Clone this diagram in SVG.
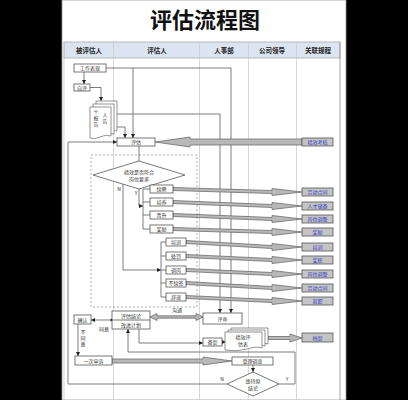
<svg xmlns="http://www.w3.org/2000/svg" width="408" height="400" viewBox="0 0 408 400">
<style>
.bx{fill:#fff;stroke:#555;stroke-width:0.8}
.rb{fill:#c4c4c4;stroke:#555;stroke-width:0.8}
.rt{fill:#3535c8;font-size:5px;text-anchor:middle;font-family:"Noto Sans CJK SC",sans-serif}
.bt{fill:#333;font-size:5px;text-anchor:middle;font-family:"Noto Sans CJK SC",sans-serif}
.ht{fill:#222;font-size:6.5px;text-anchor:middle;font-weight:bold;font-family:"Noto Sans CJK SC",sans-serif}
.ln{fill:none;stroke:#6e6e6e;stroke-width:0.9}
.ba{fill:#b8b8b8;stroke:#5e5e5e;stroke-width:0.7}
.col{stroke:#ccc;stroke-width:0.8}
.doc{fill:#fff;stroke:#666;stroke-width:0.7}
</style>
<defs>
<marker id="ah" markerWidth="4" markerHeight="4" refX="4" refY="2" orient="auto" markerUnits="userSpaceOnUse"><path d="M0,0 L4,2 L0,4 Z" fill="#222"/></marker>
</defs>
<rect x="0" y="0" width="408" height="400" fill="#000"/>
<rect x="62" y="0" width="284" height="400" fill="#fff" stroke="#999" stroke-width="0.8"/>
<text x="205" y="28" text-anchor="middle" font-size="22" font-weight="bold" font-family="Noto Sans CJK SC, sans-serif" fill="#111">评估流程图</text>
<g id="table">
<rect x="64" y="42" width="276" height="16" fill="#dbe5f1" stroke="#aaa" stroke-width="0.8"/>
<line class="col" x1="64" y1="42" x2="64" y2="400"/>
<line x1="340" y1="42" x2="340" y2="400" stroke="#999" stroke-width="0.9"/>
<line class="col" x1="113.5" y1="42" x2="113.5" y2="400"/>
<line class="col" x1="199.5" y1="42" x2="199.5" y2="400"/>
<line class="col" x1="248.5" y1="42" x2="248.5" y2="400"/>
<line class="col" x1="296.5" y1="42" x2="296.5" y2="400"/>
<text class="ht" x="89" y="52.5">被评估人</text>
<text class="ht" x="157" y="52.5">评估人</text>
<text class="ht" x="224" y="52.5">人事部</text>
<text class="ht" x="272" y="52.5">公司领导</text>
<text class="ht" x="318" y="52.5">关联规程</text>
</g>
<rect x="91" y="155" width="106" height="152" fill="none" stroke="#999" stroke-width="0.8" stroke-dasharray="2,2"/>
<g id="connectors">
<path class="ln" d="M106,68 H231 V313" marker-end="url(#ah)"/>
<path class="ln" d="M133,68 V138" marker-end="url(#ah)"/>
<path class="ln" d="M84,72 V84" marker-end="url(#ah)"/>
<path class="ln" d="M90,87.5 H101 V101" marker-end="url(#ah)"/>
<path class="ln" d="M115,114 H220 V313" marker-end="url(#ah)"/>
<path class="ln" d="M115,127 H125 V138" marker-end="url(#ah)"/>
<path class="ln" d="M139,146 V161"/>
<path class="ln" d="M68,384 V142 H117" marker-end="url(#ah)"/>
<path class="ln" d="M139,189 V206 H143" marker-end="url(#ah)"/>
<path class="ln" d="M143,189 V229 M143,189 H150 M143,202 H150 M143,215 H150 M143,229 H150"/>
<path class="ln" d="M123,184 V270 H161" marker-end="url(#ah)"/>
<path class="ln" d="M161,242 V297 M161,242 H166 M161,256 H166 M161,270 H166 M161,283 H166 M161,297 H166"/>
<polygon class="ba" points="302,139 190,139 190,137 155,142 190,147 190,145 302,145"/>
<polygon class="ba" points="173,187.5 272,190.5 272,188.5 302,192 272,195.5 272,193.5 173,190.5"/>
<polygon class="ba" points="173,200.5 272,204.5 272,202.5 302,206 272,209.5 272,207.5 173,203.5"/>
<polygon class="ba" points="173,213.5 272,217.5 272,215.5 302,219 272,222.5 272,220.5 173,216.5"/>
<polygon class="ba" points="173,227.5 272,230.5 272,228.5 302,232 272,235.5 272,233.5 173,230.5"/>
<polygon class="ba" points="186,240.5 272,245.5 272,243.5 302,247 272,250.5 272,248.5 186,243.5"/>
<polygon class="ba" points="186,254.5 272,258.5 272,256.5 302,260 272,263.5 272,261.5 186,257.5"/>
<polygon class="ba" points="186,268.5 272,272.5 272,270.5 302,274 272,277.5 272,275.5 186,271.5"/>
<polygon class="ba" points="186,281.5 272,286.5 272,284.5 302,288 272,291.5 272,289.5 186,284.5"/>
<polygon class="ba" points="186,295.5 272,299.5 272,297.5 302,301 272,304.5 272,302.5 186,298.5"/>
<path class="ln" d="M112,320 H91" marker-end="url(#ah)"/>
<rect x="110.5" y="318.8" width="2.4" height="2.4" fill="#222"/>
<path class="ln" d="M78,324 V356" marker-end="url(#ah)"/>
<polygon class="ba" points="112,359 203,359 203,357 232,361 203,365 203,363 112,363"/>
<polygon class="ba" points="150,317 157,313.5 157,315.8 196,315.8 196,313.5 203,317 196,320.5 196,318.2 157,318.2 157,320.5"/>
<path class="ln" d="M139,329 V343 H203" marker-end="url(#ah)"/>
<path class="ln" d="M222,342 H226" marker-end="url(#ah)"/>
<polygon class="ba" points="268,336.5 290,336.5 290,334 302,338 290,342 290,339.5 268,339.5"/>
<path class="ln" d="M253,365 V372" marker-end="url(#ah)"/>
<path class="ln" d="M279,384 H295 V352 H128 V329" marker-end="url(#ah)"/>
<path class="ln" d="M227,384 H68"/>
</g>
<g id="n-gzbx"><rect class="bx" x="74" y="64" width="32" height="8"/><text class="bt" x="90" y="70">工作表现</text></g>
<g id="n-zp"><rect class="bx" x="74" y="84" width="16" height="7"/><text class="bt" x="82" y="89.8">自评</text></g>
<g id="n-grbg">
<path class="doc" d="M96,101 H117 V131 Q112,129 106,132 Q100,135 96,133 Z"/>
<path class="doc" d="M93,104 H114 V134 Q109,132 103,135 Q97,138 93,136 Z"/>
<path class="doc" d="M90,107 H111 V136 Q106,134 100,137 Q94,140 90,138 Z"/>
<text class="bt" x="105" y="117">人</text><text class="bt" x="105" y="123">告</text>
<text class="bt" x="96" y="114">个</text><text class="bt" x="96" y="120">报</text><text class="bt" x="96" y="126">告</text>
</g>
<g id="n-pg"><rect class="bx" x="117" y="138" width="38" height="8"/><text class="bt" x="136" y="144">评估</text></g>
<g id="n-jxyq"><polygon class="bx" points="139,161 185,175 139,189 93,175"/><text class="bt" x="139" y="174">绩效是否符合</text><text class="bt" x="139" y="181">岗位要求</text>
<text class="bt" x="119" y="191">N</text><text class="bt" x="136" y="195">Y</text></g>
<g id="n-xp"><rect class="bx" x="150" y="185" width="23" height="8"/><text class="bt" x="161.5" y="191">续聘</text></g>
<g id="n-py"><rect class="bx" x="150" y="198" width="23" height="8"/><text class="bt" x="161.5" y="204">培养</text></g>
<g id="n-js"><rect class="bx" x="150" y="211" width="23" height="8"/><text class="bt" x="161.5" y="217">晋升</text></g>
<g id="n-jl"><rect class="bx" x="150" y="225" width="23" height="8"/><text class="bt" x="161.5" y="231">奖励</text></g>
<g id="n-px"><rect class="bx" x="166" y="238" width="20" height="8"/><text class="bt" x="176" y="244">培训</text></g>
<g id="n-cf"><rect class="bx" x="166" y="252" width="20" height="8"/><text class="bt" x="176" y="258">处罚</text></g>
<g id="n-tg"><rect class="bx" x="166" y="266" width="20" height="8"/><text class="bt" x="176" y="272">调岗</text></g>
<g id="n-bxq"><rect class="bx" x="166" y="279" width="20" height="8"/><text class="bt" x="176" y="285">不续签</text></g>
<g id="n-ct"><rect class="bx" x="166" y="293" width="20" height="8"/><text class="bt" x="176" y="299">辞退</text></g>
<g id="rel">
<rect class="rb" x="302" y="138" width="31" height="8"/><text class="rt" x="317.5" y="144">绩效考核</text>
<rect class="rb" x="302" y="188" width="31" height="8"/><text class="rt" x="317.5" y="194">劳动合同</text>
<rect class="rb" x="302" y="202" width="31" height="8"/><text class="rt" x="317.5" y="208">人才储备</text>
<rect class="rb" x="302" y="215" width="31" height="8"/><text class="rt" x="317.5" y="221">岗位调整</text>
<rect class="rb" x="302" y="228" width="31" height="8"/><text class="rt" x="317.5" y="234">奖励</text>
<rect class="rb" x="302" y="243" width="31" height="8"/><text class="rt" x="317.5" y="249">培训</text>
<rect class="rb" x="302" y="256" width="31" height="8"/><text class="rt" x="317.5" y="262">奖惩</text>
<rect class="rb" x="302" y="270" width="31" height="8"/><text class="rt" x="317.5" y="276">岗位调整</text>
<rect class="rb" x="302" y="284" width="31" height="8"/><text class="rt" x="317.5" y="290">劳动合同</text>
<rect class="rb" x="302" y="297" width="31" height="8"/><text class="rt" x="317.5" y="303">离职</text>
<rect class="rb" x="302" y="333" width="31" height="9"/><text class="rt" x="317.5" y="339.5">档案</text>
</g>
<g id="n-qr"><rect class="bx" x="74" y="315" width="17" height="9"/><text class="bt" x="82.5" y="321.5">确认</text></g>
<g id="n-jl2"><rect class="bx" x="112" y="311" width="38" height="18"/><line x1="112" y1="320" x2="150" y2="320" stroke="#555" stroke-width="0.8"/>
<text class="bt" x="131" y="317.5">评估结论</text><text class="bt" x="131" y="326.5">改进计划</text></g>
<text class="bt" x="104" y="331">同意</text>
<text class="bt" x="83" y="334">不</text><text class="bt" x="83" y="340">同</text><text class="bt" x="83" y="346">意</text>
<text class="bt" x="177" y="312">沟通</text>
<g id="n-ps"><rect class="bx" x="203" y="313" width="39" height="11"/><text class="bt" x="222.5" y="320.5">评审</text></g>
<g id="n-ycss"><rect class="bx" x="75" y="356" width="37" height="9"/><text class="bt" x="93.5" y="362.5">一次申诉</text></g>
<g id="n-ba"><rect class="bx" x="203" y="338" width="19" height="8"/><text class="bt" x="212.5" y="344">备案</text></g>
<g id="n-jxpgb">
<path class="doc" d="M231,328 H268 V344 Q262,342 253,345 Q242,348 231,346 Z"/>
<path class="doc" d="M228,330 H265 V346 Q259,344 250,347 Q239,350 228,348 Z"/>
<path class="doc" d="M225,332 H262 V348 Q256,346 247,349 Q236,352 225,350 Z"/>
<text class="bt" x="243" y="339">绩效评</text><text class="bt" x="243" y="345.5">估表</text>
</g>
<g id="n-sldc"><rect class="bx" x="232" y="357" width="41" height="8"/><text class="bt" x="252.5" y="363">受理调查</text></g>
<g id="n-wcyjl"><polygon class="bx" points="253,372 279,384 253,396 227,384"/><text class="bt" x="253" y="383">维持原</text><text class="bt" x="253" y="390">结论</text>
<text class="bt" x="222" y="381">N</text><text class="bt" x="287" y="381">Y</text></g>
</svg>
